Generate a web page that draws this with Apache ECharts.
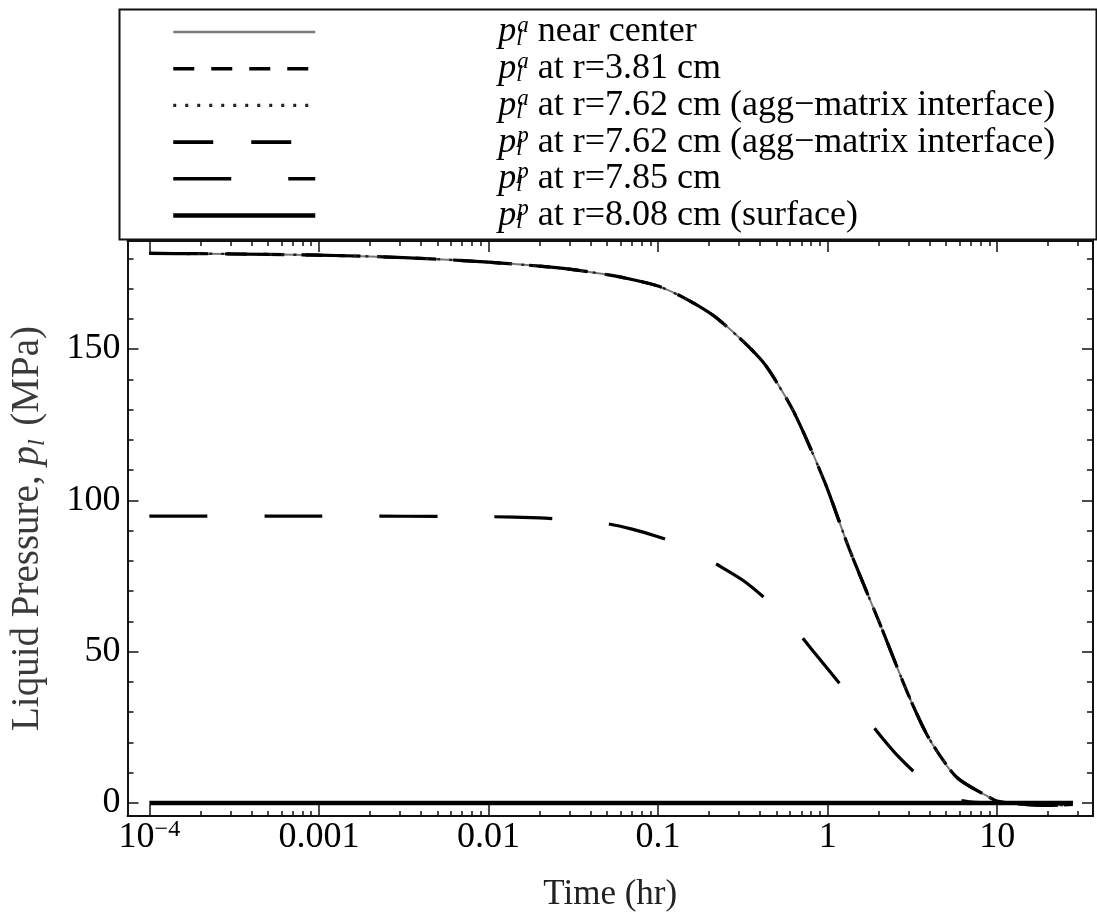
<!DOCTYPE html>
<html><head><meta charset="utf-8">
<script src="https://cdn.jsdelivr.net/npm/echarts@6/dist/echarts.min.js"></script>
<style>html,body{margin:0;padding:0;background:#fff}#c{width:1097px;height:918px}</style>
</head><body><div id="c"></div>
<script>
// ---------- data (time in hr, pressure in MPa) ----------
const seriesNames = ['near center', 'at r=3.81 cm', 'at r=7.62 cm (agg\u2212matrix interface)',
  'at r=7.62 cm (agg\u2212matrix interface) ', 'at r=7.85 cm', 'at r=8.08 cm (surface)'];
const seriesSup = ['a', 'a', 'a', 'p', 'p', 'p'];

const tMain = [1e-4, 2e-4, 5e-4, 1e-3, 2e-3, 5e-3, 0.01, 0.02, 0.03, 0.05, 0.0624, 0.1, 0.146, 0.213, 0.325, 0.432, 0.628, 0.962, 1.34, 2.04, 2.98, 3.95, 5.77, 9.23, 10, 13, 20, 28];
const pNearCenter = [181.6, 181.5, 181.3, 181.0, 180.6, 179.7, 178.7, 177.4, 176.4, 174.6, 173.6, 170.8, 166.6, 161.0, 152.0, 144.5, 129.5, 106.0, 84.0, 59.0, 36.0, 21.5, 8.5, 1.5, 0.6, -0.3, -0.8, -0.5];
const pR381 = [181.6, 181.5, 181.3, 181.0, 180.6, 179.7, 178.7, 177.4, 176.4, 174.6, 173.6, 170.8, 166.6, 161.0, 152.0, 144.5, 129.5, 106.0, 84.0, 59.0, 36.0, 21.5, 8.5, 1.5, 0.6, -0.3, -0.8, -0.5];
const pR762a = [181.6, 181.5, 181.3, 181.0, 180.6, 179.7, 178.7, 177.4, 176.4, 174.6, 173.6, 170.8, 166.6, 161.0, 152.0, 144.5, 129.5, 106.0, 84.0, 59.0, 36.0, 21.5, 8.5, 1.5, 0.6, -0.3, -0.8, -0.5];
const pR762p = [181.6, 181.5, 181.3, 181.0, 180.6, 179.7, 178.7, 177.4, 176.4, 174.6, 173.6, 170.8, 166.6, 161.0, 152.0, 144.5, 129.5, 106.0, 84.0, 59.0, 36.0, 21.5, 8.5, 1.5, 0.6, -0.3, -0.8, -0.5];

const tR785 = [1e-4, 1e-3, 0.01, 0.02, 0.03, 0.05, 0.0702, 0.1, 0.149, 0.22, 0.318, 0.45, 0.6, 0.8, 1.045, 1.3, 1.65, 2.1, 2.67, 3.5, 4.66, 6, 8, 10, 15, 20, 28];
const pR785 = [94.8, 94.8, 94.6, 94.2, 93.6, 92.3, 90.5, 88.0, 84.5, 79.0, 73.5, 66.5, 59.5, 51.0, 43.0, 36.5, 29.0, 21.5, 14.8, 8.6, 4.0, 1.0, 0.1, 0, 0, 0, 0];

const tSurface = [1e-4, 1e-3, 0.01, 0.1, 1, 10, 28];
const pSurface = [0, 0, 0, 0, 0, 0, 0];

// ---------- axes ----------
const xTickValues = [1e-4, 1e-3, 1e-2, 1e-1, 1, 10];
const xTickLabels = ['10|\u22124', '0.001', '0.01', '0.1', '1', '10'];
const xMinorMult = [2, 3, 4, 5, 6, 7, 8, 9];
const xRangeLog = [-4.129, 1.565];
const yTickValues = [0, 50, 100, 150];
const yTickLabels = ['0', '50', '100', '150'];
const yMinorTicks = [10, 20, 30, 40, 60, 70, 80, 90, 110, 120, 130, 140, 160, 170, 180];
const yRange = [-4.3, 185.7];

const L10 = Math.log10;
const xMajorLog = xTickValues.map(L10);
const xMinorLog = [];
xTickValues.forEach(d => xMinorMult.forEach(m => { const v = L10(d * m); if (v < xRangeLog[1]) xMinorLog.push(v); }));

const FONT = '"Liberation Serif", "Times New Roman", serif';
const TICKFS = 36;
const chart = echarts.init(document.getElementById('c'), null, {renderer: 'canvas'});

function xLabelFmt(v) {
  const i = xMajorLog.findIndex(x => Math.abs(x - v) < 1e-6);
  if (i < 0) return '';
  const s = xTickLabels[i];
  if (s.indexOf('|') >= 0) { const p = s.split('|'); return '{n|' + p[0] + '}{sup|' + p[1] + '}'; }
  return '{n|' + s + '}';
}
function yLabelFmt(v) {
  const i = yTickValues.findIndex(x => Math.abs(x - v) < 1e-6);
  return i < 0 ? '' : yTickLabels[i];
}

function xAx(pos, vals, len, label, line) {
  return {
    type: 'value', position: pos, min: xRangeLog[0], max: xRangeLog[1],
    axisLine: {show: line, onZero: false, lineStyle: {color: '#111', width: 2}},
    axisTick: {show: true, inside: true, length: len, customValues: vals, lineStyle: {color: '#111', width: 1.5}},
    axisLabel: label ? {show: true, customValues: xMajorLog, formatter: xLabelFmt, margin: 2,
      rich: {n: {fontFamily: FONT, fontSize: TICKFS, color: '#000', lineHeight: 40},
             sup: {fontFamily: FONT, fontSize: 24, color: '#000', verticalAlign: 'top', lineHeight: 24}}}
      : {show: false},
    splitLine: {show: false},
    name: label ? 'Time (hr)' : '', nameLocation: 'middle', nameGap: 61,
    nameTextStyle: {fontFamily: FONT, fontSize: 35, color: '#222'}
  };
}
function yAx(pos, vals, len, label, line) {
  return {
    type: 'value', position: pos, min: yRange[0], max: yRange[1],
    axisLine: {show: line, onZero: false, lineStyle: {color: '#111', width: 2}},
    axisTick: {show: true, inside: true, length: len, customValues: vals, lineStyle: {color: '#111', width: 1.5}},
    axisLabel: label ? {show: true, customValues: yTickValues, formatter: yLabelFmt, margin: 7,
      fontFamily: FONT, fontSize: TICKFS, color: '#000'} : {show: false},
    splitLine: {show: false},
    name: label ? '{t|Liquid Pressure, }{i|p}{s|l}{t| (MPa)}' : '', nameLocation: 'middle', nameGap: 78,
    nameTextStyle: {fontFamily: FONT, fontSize: 39, color: '#3a3a3a',
      rich: {t: {fontFamily: FONT, fontSize: 39, color: '#3a3a3a', lineHeight: 44},
             i: {fontFamily: FONT, fontSize: 39, fontStyle: 'italic', color: '#3a3a3a', lineHeight: 44},
             s: {fontFamily: FONT, fontSize: 24, fontStyle: 'italic', color: '#3a3a3a', verticalAlign: 'bottom', lineHeight: 24, padding: [0, 4, 0, 0]}}}
  };
}

function pairs(t, p) { return t.map((x, i) => [L10(x), p[i]]); }

const styles = [
  {color: '#7a7a7a', width: 2, type: 'solid', lw: 2.4},
  {color: '#000', width: 3.2, type: [21, 17], lw: 3.6},
  {color: '#222', width: 2.4, type: [3, 9], lw: 3.4},
  {color: '#000', width: 3.2, type: [40, 38], lw: 3.6},
  {color: '#000', width: 3.2, type: [58, 57], lw: 3.6},
  {color: '#000', width: 4.5, type: 'solid', lw: 4.5}
];
const seriesData = [pairs(tMain, pNearCenter), pairs(tMain, pR381), pairs(tMain, pR762a),
  pairs(tMain, pR762p), pairs(tR785, pR785), pairs(tSurface, pSurface)];

const series = seriesNames.map((n, i) => ({
  name: n, type: 'line', xAxisIndex: 0, yAxisIndex: 0, data: seriesData[i],
  symbol: 'none', smooth: 0.25, clip: true,
  lineStyle: {color: styles[i].color, width: styles[i].width, type: styles[i].type, cap: 'butt'},
  itemStyle: {color: styles[i].color}, z: 2 + i
}));

function legendFmt(name) {
  const i = seriesNames.indexOf(name);
  return '{gap|}{p|p}{sub|l}{sup|' + seriesSup[i] + '}{t| ' + name.trim() + '}';
}

const LFS = 36;
chart.setOption({
  animation: false,
  backgroundColor: '#fff',
  grid: {left: 125, right: 4, top: 241, bottom: 102, containLabel: false},
  xAxis: [xAx('bottom', xMajorLog, 11, true, true), xAx('bottom', xMinorLog, 5, false, false),
          xAx('top', xMajorLog, 11, false, true), xAx('top', xMinorLog, 5, false, false)],
  yAxis: [yAx('left', yTickValues, 11, true, true), yAx('left', yMinorTicks, 6, false, false),
          yAx('right', yTickValues, 11, false, true), yAx('right', yMinorTicks, 6, false, false)],
  legend: {
    orient: 'vertical', left: 166, top: 9, itemWidth: 142, itemHeight: 12, itemGap: 0.7,
    selectedMode: false, formatter: legendFmt,
    itemStyle: {opacity: 0, color: 'rgba(0,0,0,0)', borderWidth: 0},
    textStyle: {fontFamily: FONT, fontSize: LFS, color: '#000', lineHeight: 36,
      rich: {
        gap: {width: 178, lineHeight: 36},
        p: {fontFamily: FONT, fontSize: LFS, fontStyle: 'italic', color: '#000', lineHeight: 36},
        sub: {fontFamily: FONT, fontSize: 23, fontStyle: 'italic', color: '#000', verticalAlign: 'bottom', lineHeight: 16, width: 1},
        sup: {fontFamily: FONT, fontSize: 23, fontStyle: 'italic', color: '#000', verticalAlign: 'top', lineHeight: 16},
        t: {fontFamily: FONT, fontSize: LFS, color: '#000', lineHeight: 36}
      }},
    data: seriesNames.map((n, i) => ({name: n,
      itemStyle: {opacity: 0, color: 'rgba(0,0,0,0)', borderWidth: 0},
      lineStyle: {color: styles[i].color, width: styles[i].lw, type: styles[i].type, cap: 'butt', opacity: 1}}))
  },
  graphic: [{type: 'rect', left: 117, top: 7, shape: {width: 977, height: 230},
    style: {fill: 'none', stroke: '#111', lineWidth: 2}, silent: true}],
  series: series
});
</script></body></html>
